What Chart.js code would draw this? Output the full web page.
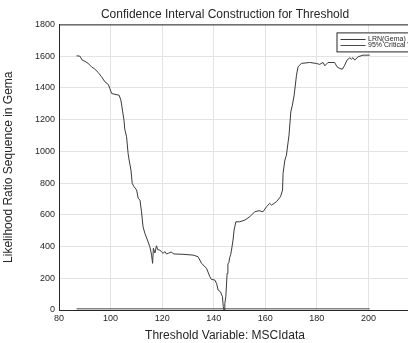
<!DOCTYPE html>
<html>
<head>
<meta charset="utf-8">
<script src="https://cdn.jsdelivr.net/npm/chart.js@4.4.1/dist/chart.umd.min.js"></script>
<style>
  html, body { margin: 0; padding: 0; background: #fff; overflow: hidden; }
  canvas { display: block; }
</style>
</head>
<body>
<canvas id="c" width="450" height="343"></canvas>
<script>
// threshold grid and LR statistic
const thresholdX = [
  86.8, 88.1, 89.0, 90.0, 91.3, 92.6, 93.9, 95.2, 96.5, 97.8,
  99.1, 99.7, 100.4, 101.7, 103.3, 104.0, 104.7, 105.2, 105.5, 106.2,
  106.8, 107.2, 107.9, 108.4, 109.1, 110.1, 110.7, 111.4, 112.0, 112.6,
  113.3, 114.3, 115.2, 115.6, 115.9, 116.3, 116.6, 117.2, 117.8, 118.3,
  119.1, 120.0, 120.4, 121.0, 121.7, 122.5, 123.6, 124.2, 124.9, 128.1,
  132.0, 133.9, 135.3, 137.2, 138.5, 139.1, 140.4, 141.1, 141.7, 142.6,
  143.4, 143.7, 144.0, 144.3, 144.7, 145.2, 145.5, 145.9, 146.2, 146.6,
  146.9, 147.5, 147.9, 148.6, 150.1, 152.1, 154.0, 155.9, 157.6, 159.1,
  160.5, 161.7, 162.4, 164.3, 165.9, 166.7, 166.9, 167.6, 168.2, 169.2,
  169.9, 170.5, 171.2, 172.1, 172.7, 174.0, 177.2, 179.8, 181.1, 182.4,
  183.1, 184.3, 186.9, 187.8, 188.9, 189.9, 190.8, 191.7, 192.8, 193.4,
  194.0, 194.7, 196.0, 197.9, 200.5
];
const lrnValues = [
  1602, 1600, 1575, 1568, 1554, 1533, 1518, 1497, 1470, 1438,
  1422, 1397, 1365, 1359, 1354, 1323, 1249, 1197, 1140, 1092,
  987, 945, 882, 798, 777, 756, 704, 693, 619, 525,
  483, 441, 399, 372, 346, 294, 389, 359, 405, 380,
  378, 362, 357, 368, 353, 358, 366, 355, 353, 351,
  346, 336, 294, 263, 210, 193, 189, 168, 126, 115,
  84, 21, 0, 40, 84, 231, 290, 300, 330, 350,
  378, 441, 504, 556, 556, 567, 588, 619, 626, 619,
  651, 672, 661, 682, 714, 756, 861, 945, 976, 1102,
  1249, 1291, 1354, 1480, 1533, 1554, 1560, 1554, 1548, 1560,
  1539, 1560, 1560, 1533, 1522, 1518, 1543, 1575, 1590, 1581,
  1590, 1575, 1596, 1606, 1606
];

// 95% critical value, drawn flat over the threshold range
const criticalX = [86.8, 200.5];
const criticalValue = 7.35;

const seriesLabels = ['LRN(Gema)', '95% Critical Value'];
const xTicks = [80, 100, 120, 140, 160, 180, 200, 220];
const yTicks = [0, 200, 400, 600, 800, 1000, 1200, 1400, 1600, 1800];

const FONT = "'Liberation Sans', Arial, Helvetica, sans-serif";
const INK = '#262626';
const GRID = '#e3e3e3';

Chart.defaults.font.family = FONT;
Chart.defaults.color = INK;

// closed axes box (top and right edges)
const axesBox = {
  id: 'axesBox',
  beforeDatasetsDraw(chart) {
    const { ctx, chartArea: a } = chart;
    ctx.save();
    ctx.strokeStyle = INK;
    ctx.lineWidth = 1;
    ctx.beginPath();
    ctx.moveTo(a.left, a.top + 0.5);
    ctx.lineTo(a.right, a.top + 0.5);
    ctx.lineTo(a.right, a.bottom);
    ctx.stroke();
    ctx.restore();
  }
};

// boxed legend inside the top-right corner of the axes
const insetLegend = {
  id: 'insetLegend',
  afterDraw(chart) {
    const { ctx, chartArea: a } = chart;
    const bx = a.right - 83.5, by = a.top + 8;
    const bw = 92, bh = 19;
    ctx.save();
    ctx.fillStyle = '#fff';
    ctx.fillRect(bx, by, bw, bh);
    ctx.strokeStyle = INK;
    ctx.lineWidth = 1;
    ctx.strokeRect(bx + 0.5, by + 0.5, bw, bh);
    ctx.font = '7px ' + FONT;
    ctx.textBaseline = 'middle';
    chart.data.datasets.forEach((ds, i) => {
      const yy = Math.round(by + 6.5 + i * 6) + 0.5;
      ctx.strokeStyle = ds.borderColor;
      ctx.lineWidth = 1;
      ctx.beginPath();
      ctx.moveTo(bx + 4, yy);
      ctx.lineTo(bx + 29, yy);
      ctx.stroke();
      ctx.fillStyle = INK;
      ctx.fillText(ds.label, bx + 31.5, yy);
    });
    ctx.restore();
  }
};

new Chart(document.getElementById('c'), {
  type: 'line',
  data: {
    datasets: [
      {
        label: seriesLabels[0],
        data: thresholdX.map((x, i) => ({ x, y: lrnValues[i] })),
        borderColor: '#3a3a3a',
        borderWidth: 1,
        pointRadius: 0,
        tension: 0,
        fill: false,
      },
      {
        label: seriesLabels[1],
        data: criticalX.map(x => ({ x, y: criticalValue })),
        borderColor: '#4a4a4a',
        borderWidth: 1,
        pointRadius: 0,
        fill: false,
      },
    ],
  },
  options: {
    responsive: false,
    animation: false,
    devicePixelRatio: 1,
    layout: { padding: 0 },
    plugins: {
      legend: { display: false },
      tooltip: { enabled: false },
      title: {
        display: true,
        text: 'Confidence Interval Construction for Threshold',
        font: { size: 12, weight: 'normal' },
        color: INK,
        padding: { top: 7, bottom: 3 },
      },
      subtitle: {
        display: true,
        position: 'bottom',
        text: 'Threshold Variable: MSCIdata',
        font: { size: 12, weight: 'normal' },
        color: INK,
        padding: { top: 2, bottom: 0 },
      },
    },
    scales: {
      x: {
        type: 'linear',
        min: xTicks[0],
        max: xTicks[xTicks.length - 1],
        afterBuildTicks: s => { s.ticks = xTicks.map(v => ({ value: v })); },
        afterFit: s => { s.height = 16.6; },
        ticks: { font: { size: 9 }, color: INK, padding: 3, maxRotation: 0, callback: v => String(v) },
        grid: { color: GRID, drawTicks: false },
        border: { color: INK },
      },
      y: {
        min: yTicks[0],
        max: yTicks[yTicks.length - 1],
        afterBuildTicks: s => { s.ticks = yTicks.map(v => ({ value: v })); },
        afterFit: s => { s.width = 59; },
        ticks: { font: { size: 9 }, color: INK, padding: 4, callback: v => String(v) },
        grid: { color: GRID, drawTicks: false },
        border: { color: INK },
        title: {
          display: true,
          text: 'Likelihood Ratio Sequence in Gema',
          font: { size: 12 },
          color: INK,
          padding: { top: 1, bottom: 0 },
        },
      },
      // spacer on the right so the titles centre on the full figure
      yRight: {
        axis: 'y',
        position: 'right',
        display: true,
        ticks: { display: false },
        grid: { display: false },
        border: { display: false },
        afterFit: s => { s.width = 30; },
      },
    },
  },
  plugins: [axesBox, insetLegend],
});
</script>
</body>
</html>
